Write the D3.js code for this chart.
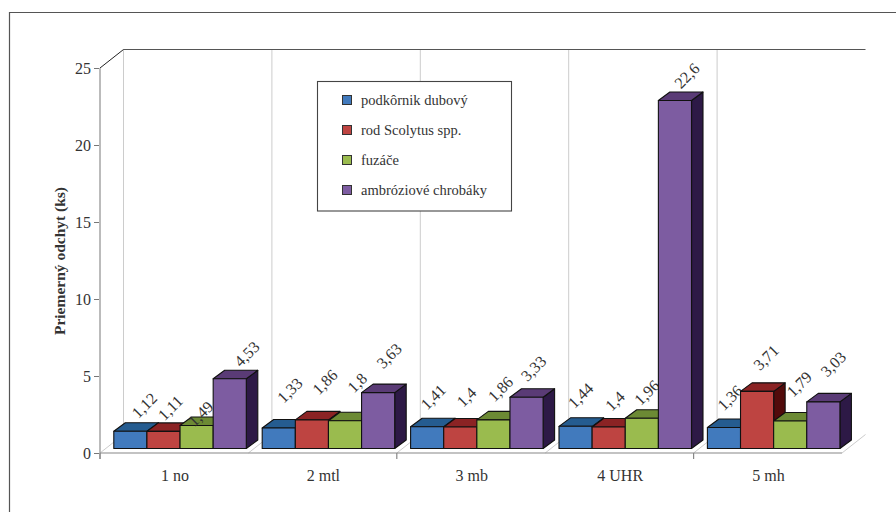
<!DOCTYPE html>
<html>
<head>
<meta charset="utf-8">
<script src="https://cdn.jsdelivr.net/npm/d3@7"></script>
<style>
  html, body { margin: 0; background: #fff; }
  svg { display: block; }
  text { font-family: "Liberation Serif", serif; fill: #333; }
</style>
</head>
<body>
<svg id="chart" width="896" height="512"></svg>
<script>
const categories = ["1 no", "2 mtl", "3 mb", "4 UHR", "5 mh"];
const seriesNames = ["podkôrnik dubový", "rod Scolytus spp.", "fuzáče", "ambróziové chrobáky"];
const podkornik = [1.12, 1.33, 1.41, 1.44, 1.36];
const scolytus = [1.11, 1.86, 1.4, 1.4, 3.71];
const fuzace = [1.49, 1.8, 1.86, 1.96, 1.79];
const ambrozia = [4.53, 3.63, 3.33, 22.6, 3.03];
const labels = [
  ["1,12", "1,33", "1,41", "1,44", "1,36"],
  ["1,11", "1,86", "1,4", "1,4", "3,71"],
  ["1,49", "1,8", "1,86", "1,96", "1,79"],
  ["4,53", "3,63", "3,33", "22,6", "3,03"]
];
const yTicks = [0, 5, 10, 15, 20, 25];

const series = [podkornik, scolytus, fuzace, ambrozia];
const faceColors = ["#417ABD", "#BE4441", "#9ABB4E", "#7D5CA1"];
const topColors = ["#255C90", "#8B2324", "#6C8A34", "#5A3B76"];
const sideColors = ["#173E63", "#520B0B", "#445A1C", "#2D1946"];

// label nudges relative to bar centre / bar top, [series][category]
const labelNudge = [
  [[3, -13], [0, -25], [-5, -17], [-6, -18], [-5, -17]],
  [[-4, -11], [2, -25], [-2, -20], [-2, -16], [-2, -21]],
  [[-7, 1], [4, -28], [-4, -18], [-6, -13], [-2, -24]],
  [[6, -12], [0, -24], [-4, -16], [1, -12], [-1, -25]]
];
const labelShift = [5, 1];

const svg = d3.select("#chart");

const axisX = 100, axisEnd = 842;
const wallDx = 23.5, wallDy = 18.5;
const barDx = 11.5, barDy = 8.5;
const barBase = 448.5;

const y = d3.scaleLinear().domain([0, 25]).range([453, 68]);
const x = d3.scaleBand().domain(d3.range(categories.length)).range([axisX, axisEnd]);
const inner = d3.scaleBand().domain(d3.range(series.length)).range([13.8, 146.3]);
const line = d3.line();

// outer frame, open on the right and bottom
svg.append("path").attr("d", "M9.5,512V12.5H896").attr("fill", "none").attr("stroke", "#555").attr("stroke-width", 1.2);

// back wall + floor lines
const grid = svg.append("g").attr("fill", "none");
categories.forEach((_, i) => {
  const gx = x(i);
  grid.append("line").attr("x1", gx + wallDx).attr("x2", gx + wallDx)
    .attr("y1", y(25) - wallDy).attr("y2", y(0) - wallDy).attr("stroke", "#ccc");
  grid.append("line").attr("x1", gx).attr("x2", gx + wallDx)
    .attr("y1", y(0)).attr("y2", y(0) - wallDy).attr("stroke", "#ccc");
});
grid.append("line").attr("x1", axisEnd).attr("x2", axisEnd + wallDx)
  .attr("y1", y(0)).attr("y2", y(0) - wallDy).attr("stroke", "#ccc");
grid.append("line").attr("x1", axisX + wallDx).attr("x2", axisEnd + wallDx)
  .attr("y1", y(25) - wallDy).attr("y2", y(25) - wallDy).attr("stroke", "#555").attr("stroke-width", 1.2);
grid.append("line").attr("x1", axisX).attr("x2", axisX + wallDx)
  .attr("y1", y(25)).attr("y2", y(25) - wallDy).attr("stroke", "#222");

// axes
const yAxis = svg.append("g").attr("transform", `translate(${axisX},0)`)
  .call(d3.axisLeft(y).tickValues(yTicks).tickSize(6).tickPadding(3).tickFormat(d3.format("d")));
yAxis.select(".domain").remove();
yAxis.selectAll("line").attr("stroke", "#777");
yAxis.selectAll("text").attr("font-size", 16).attr("dy", "0.36em");
svg.append("line").attr("x1", axisX).attr("x2", axisX).attr("y1", y(25)).attr("y2", y(0) + 6)
  .attr("stroke", "#bbb").attr("stroke-width", 2);
svg.append("line").attr("x1", axisX).attr("x2", axisEnd).attr("y1", y(0)).attr("y2", y(0))
  .attr("stroke", "#888").attr("stroke-width", 1.2);
[0, 2, 4].forEach((i) => {
  svg.append("line").attr("x1", x(i)).attr("x2", x(i)).attr("y1", y(0)).attr("y2", y(0) + 6)
    .attr("stroke", "#888").attr("stroke-width", 1.2);
});

svg.selectAll(".cat").data(categories).enter().append("text")
  .attr("class", "cat")
  .attr("x", (d, i) => x(i) + x.bandwidth() / 2 + 0.8)
  .attr("y", 481)
  .attr("text-anchor", "middle")
  .attr("font-size", 16)
  .text((d) => d);

svg.append("text")
  .attr("transform", "translate(64.5,261) rotate(-90)")
  .attr("text-anchor", "middle")
  .attr("font-size", 15.5)
  .attr("font-weight", "bold")
  .text("Priemerný odchyt (ks)");

// bars are painted left to right, each label right after its bar,
// so the next bar covers any label that runs into it
const bars = svg.append("g");
categories.forEach((_, c) => {
  series.forEach((values, s) => {
    const bw = inner.bandwidth();
    const x0 = x(c) + inner(s);
    const x1 = x0 + bw;
    const top = barBase - (y(0) - y(values[c]));
    const g = bars.append("g").attr("stroke", "#111").attr("stroke-width", 1.1).attr("stroke-linejoin", "round");
    g.append("path").attr("fill", sideColors[s])
      .attr("d", line([[x1, top], [x1 + barDx, top - barDy], [x1 + barDx, barBase - barDy], [x1, barBase]]) + "Z");
    g.append("path").attr("fill", topColors[s])
      .attr("d", line([[x0, top], [x0 + barDx, top - barDy], [x1 + barDx, top - barDy], [x1, top]]) + "Z");
    g.append("rect").attr("x", x0).attr("y", top).attr("width", bw).attr("height", barBase - top)
      .attr("fill", faceColors[s]);
    const [nx, ny] = labelNudge[s][c];
    bars.append("text")
      .attr("transform", `translate(${x0 + bw / 2 + nx + labelShift[0]},${top + ny + labelShift[1]}) rotate(-45)`)
      .attr("font-size", 16)
      .text(labels[s][c]);
  });
});

// legend
const legendY = d3.scalePoint().domain(seriesNames).range([100, 190]);
const legend = svg.append("g");
legend.append("rect").attr("x", 317.5).attr("y", 81.5).attr("width", 194).attr("height", 129.5)
  .attr("fill", "#fff").attr("stroke", "#444").attr("stroke-width", 1.1);
seriesNames.forEach((name, s) => {
  legend.append("rect").attr("x", 342.5).attr("y", legendY(name) - 4.5).attr("width", 9).attr("height", 9)
    .attr("fill", faceColors[s]).attr("stroke", "#333");
  legend.append("text").attr("x", 361).attr("y", legendY(name) + 4.5).attr("font-size", 14.5).text(name);
});
</script>
</body>
</html>
